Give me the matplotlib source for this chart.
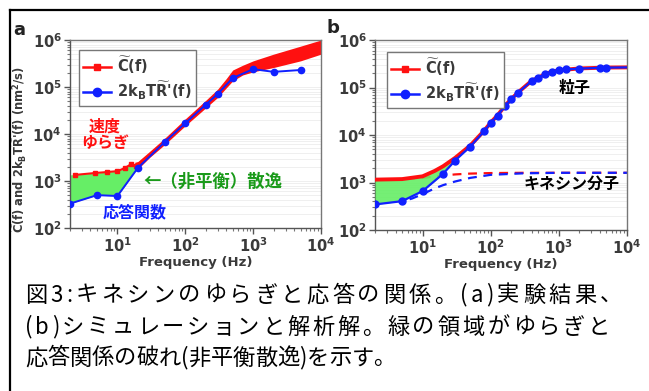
import numpy as np
import matplotlib
matplotlib.use("Agg")
import matplotlib.pyplot as plt
from matplotlib.lines import Line2D
from matplotlib.ticker import FuncFormatter, LogLocator, NullFormatter

# ---------------- data: panel a (experiment) ----------------
a_red_f = [2.4, 4.7, 7, 10, 13, 16, 19]
a_red_v = [1350, 1480, 1550, 1620, 1900, 2300, 2100]
a_band_f = [18, 20, 30, 50, 100, 200, 300, 400, 500, 700, 1000, 2000, 5000, 10000]
a_band_lo = [1900, 1800, 3200, 6000, 15000, 36000, 60000, 95000, 135000, 180000, 210000, 260000, 360000, 500000]
a_band_hi = [2500, 2600, 4300, 8200, 21000, 52000, 90000, 150000, 230000, 290000, 360000, 500000, 740000, 1000000]
a_blue_f = [2, 5, 10, 20, 50, 100, 200, 300, 500, 1000, 2000, 5000]
a_blue_v = [330, 500, 480, 1900, 6800, 17000, 42000, 71000, 155000, 240000, 210000, 230000]
a_green_f = [2, 5, 10, 13, 16, 20]
a_green_hi = [1350, 1480, 1620, 1900, 2300, 1900]
a_green_lo = [330, 500, 480, 810, 1230, 1900]

# ---------------- data: panel b (simulation) ----------------
b_blue_f = [2, 5, 10, 20, 30, 50, 80, 100, 126, 160, 200, 250, 400, 500, 630, 800,
            1000, 1260, 2000, 4000, 5000]
b_blue_v = [345, 405, 660, 1530, 2900, 5700, 12000, 18000, 25500, 40000, 56000, 77000,
            138000, 160000, 190000, 215000, 230000, 240000, 250000, 260000, 262000]
b_blue_end_f = [5000, 10000]
b_blue_end_v = [262000, 265000]
b_red_f = [2, 5, 10, 15, 20, 30, 50, 80, 100, 126, 160, 200, 250, 400, 500, 630, 800,
           1000, 2000, 5000, 10000]
b_red_v = [1150, 1180, 1350, 1750, 2200, 3300, 6000, 12300, 18300, 26000, 40500, 57000,
           78000, 139000, 161000, 191000, 216000, 231000, 252000, 263000, 265000]
b_red_dash_f = [2, 5, 10, 20, 30, 50, 100, 300, 1000, 10000]
b_red_dash_v = [1150, 1180, 1250, 1400, 1480, 1540, 1580, 1600, 1600, 1600]
b_blue_dash_f = [5, 7, 10, 15, 20, 30, 50, 100, 300, 1000, 10000]
b_blue_dash_v = [400, 460, 570, 750, 880, 1050, 1250, 1450, 1560, 1600, 1600]
b_green_f = [2, 5, 10, 15, 20, 25, 30]
b_green_hi = [1150, 1180, 1350, 1750, 2200, 2750, 3200]
b_green_lo = [345, 405, 660, 1070, 1530, 2200, 2900]

caption_lines = ["図3:キネシンのゆらぎと応答の関係。(a)実験結果、",
                 "(b)シミュレーションと解析解。緑の領域がゆらぎと",
                 "応答関係の破れ(非平衡散逸)を示す。"]

RED = "#ff1010"
BLUE = "#1020ff"
GREEN_FILL = "#66ee66"
GREEN_TXT = "#1a9a1a"
GREY = "#3a3a3a"
JP = ["Noto Sans CJK JP", "DejaVu Sans"]

W, H = 649, 391
fig = plt.figure(figsize=(W / 100, H / 100), dpi=100)
fig.patch.set_facecolor("white")

ax_a = fig.add_axes([70 / W, 1 - 228 / H, (321 - 70) / W, (228 - 40) / H])
ax_b = fig.add_axes([375 / W, 1 - 230 / H, (627 - 375) / W, (230 - 40) / H])

fmt = FuncFormatter(lambda v, p: r"$\mathbf{10^{%d}}$" % int(round(np.log10(v))))

for ax in (ax_a, ax_b):
    ax.set_xscale("log")
    ax.set_yscale("log")
    ax.set_xlim(2, 1e4)
    ax.set_ylim(1e2, 1e6)
    ax.xaxis.set_major_locator(LogLocator(base=10, numticks=10))
    ax.yaxis.set_major_locator(LogLocator(base=10, numticks=10))
    ax.xaxis.set_minor_locator(LogLocator(base=10, subs=np.arange(2, 10), numticks=20))
    ax.yaxis.set_minor_locator(LogLocator(base=10, subs=np.arange(2, 10), numticks=20))
    ax.xaxis.set_major_formatter(fmt)
    ax.yaxis.set_major_formatter(fmt)
    ax.xaxis.set_minor_formatter(NullFormatter())
    ax.yaxis.set_minor_formatter(NullFormatter())
    ax.tick_params(which="major", direction="out", length=4, width=1, color="#555555",
                   labelsize=10.5, labelcolor=GREY, pad=2)
    ax.tick_params(which="minor", direction="out", length=2.5, width=0.8, color="#777777")
    for s in ax.spines.values():
        s.set_color("#777777")
        s.set_linewidth(1)
    ax.spines["left"].set_color("#555555")
    ax.spines["bottom"].set_color("#555555")
    ax.grid(True, which="both", axis="y", color="#ececec", lw=0.6, zorder=0)
    ax.set_axisbelow(True)
    ax.set_xlabel("Frequency (Hz)", fontsize=9.5, fontweight="bold", color=GREY, labelpad=1)

# ---------------- panel a ----------------
ax_a.fill_between(a_green_f, a_green_lo, a_green_hi, color=GREEN_FILL, lw=0, zorder=1)
ax_a.fill_between(a_band_f, a_band_lo, a_band_hi, color=RED, lw=0, zorder=2)
ax_a.plot(a_red_f, a_red_v, "-", color=RED, lw=1.5, marker="s", ms=2.5, zorder=3)
ax_a.plot(a_blue_f, a_blue_v, "-", color=BLUE, lw=1.4, marker="o", ms=4.5, zorder=4)

ax_a.yaxis.set_label_text(r"$\widetilde{\mathbf{C}}$(f) and 2k$_\mathbf{B}$T$\widetilde{\mathbf{R}}$'(f) (nm$^\mathbf{2}$/s)",
                          fontsize=8.3, fontweight="bold", color=GREY)
ax_a.yaxis.set_label_coords(-0.165, 0.42)

ax_a.text(0.139, 0.495, "速度\nゆらぎ", transform=ax_a.transAxes, ha="center", va="center",
          fontsize=11.5, fontweight="bold", color=RED, family=JP, linespacing=1.05)
ax_a.text(0.291, 0.245, "←（非平衡）散逸", transform=ax_a.transAxes, ha="left", va="center",
          fontsize=12.5, fontweight="bold", color=GREEN_TXT, family=JP)
ax_a.text(0.257, 0.085, "応答関数", transform=ax_a.transAxes, ha="center", va="center",
          fontsize=11.5, fontweight="bold", color=BLUE, family=JP)

# ---------------- panel b ----------------
ax_b.plot(b_red_dash_f, b_red_dash_v, color=RED, lw=1.6, ls=(0, (4, 3)), zorder=2)
ax_b.plot(b_blue_dash_f, b_blue_dash_v, color=BLUE, lw=1.6, ls=(3.5, (4, 3)), zorder=2)
ax_b.fill_between(b_green_f, b_green_lo, b_green_hi, color=GREEN_FILL, lw=0, alpha=0.9, zorder=3)
ax_b.plot(b_red_f, b_red_v, "-", color=RED, lw=2.8, zorder=4)
ax_b.plot(b_blue_end_f, b_blue_end_v, "-", color=BLUE, lw=1.6, zorder=5)
ax_b.plot(b_blue_f, b_blue_v, "-", color=BLUE, lw=1.6, marker="o", ms=5, zorder=5)

ax_b.text(0.794, 0.747, "粒子", transform=ax_b.transAxes, ha="center", va="center",
          fontsize=11.5, fontweight="bold", color="black", family=JP)
ax_b.text(0.778, 0.242, "キネシン分子", transform=ax_b.transAxes, ha="center", va="center",
          fontsize=11.5, fontweight="bold", color="black", family=JP)

# legends
h_red = Line2D([], [], color=RED, lw=1.8, marker="s", ms=4)
h_blue = Line2D([], [], color=BLUE, lw=1.8, marker="o", ms=6)
labels = [r"$\widetilde{\mathbf{C}}$(f)", r"2k$_\mathbf{B}$T$\widetilde{\mathbf{R}}$'(f)"]
for ax, x0, y0 in ((ax_a, (79 - 70) / 251, (228 - 50) / 188),
                   (ax_b, (387 - 375) / 252, (230 - 52) / 190)):
    leg = ax.legend([h_red, h_blue], labels, loc="upper left", bbox_to_anchor=(x0, y0),
                    borderaxespad=0, prop={"size": 10.5, "weight": "bold"}, fancybox=False,
                    framealpha=1, edgecolor="#777777", handlelength=1.9, handletextpad=0.4,
                    borderpad=0.3, labelspacing=0.25)
    leg.get_frame().set_linewidth(1)
    for t in leg.get_texts():
        t.set_color(GREY)

# panel labels
fig.text(19 / W, 1 - 30 / H, "a", fontsize=13, fontweight="bold", color="#222222",
         ha="center", va="center")
fig.text(333 / W, 1 - 28 / H, "b", fontsize=13, fontweight="bold", color="#222222",
         ha="center", va="center")

# caption: first two lines justified to the frame width, last line natural
renderer = fig.canvas.get_renderer()
cap_targets = [622, 610, None]
cap_y = [295, 327, 358]
for line, y, x_end in zip(caption_lines, cap_y, cap_targets):
    arts = [fig.text(0, 1 - y / H, ch, fontsize=16, color="black", family=JP,
                     ha="left", va="center") for ch in line]
    widths = [a.get_window_extent(renderer).width for a in arts]
    x0 = 25.0
    extra = 0.0
    if x_end is not None and len(arts) > 1:
        extra = (x_end - x0 - sum(widths)) / (len(arts) - 1)
    x = x0
    for a, w in zip(arts, widths):
        a.set_x(x / W)
        x += w + extra

# outer frame (left and top edges)
fig.add_artist(Line2D([10 / W, 1.0], [1 - 10 / H, 1 - 10 / H], transform=fig.transFigure,
                      color="black", lw=1.6))
fig.add_artist(Line2D([10 / W, 10 / W], [0, 1 - 10 / H], transform=fig.transFigure,
                      color="black", lw=1.6))

fig.savefig("out.png", dpi=100)
